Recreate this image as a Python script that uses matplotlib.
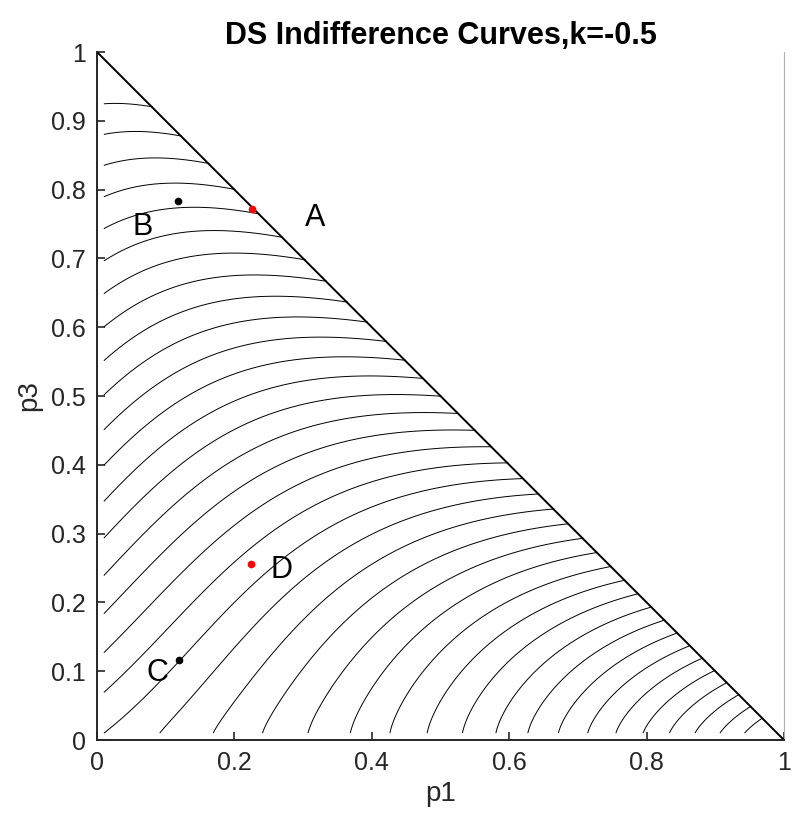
import numpy as np
import matplotlib
matplotlib.use("Agg")
import matplotlib.pyplot as plt

plt.rcParams['font.family'] = ['Liberation Sans', 'DejaVu Sans']

# curve levels shown in the figure
levels = np.arange(-18, 19)

# where each curve leaves the left edge (p1 = 0.01), levels 0..18
left_p3 = [0.011, 0.069, 0.127, 0.183, 0.238, 0.293, 0.347, 0.400, 0.450, 0.500,
           0.550, 0.599, 0.647, 0.695, 0.741, 0.787, 0.832, 0.877, 0.920]
left_lv = list(range(0, 19))

# where each curve leaves the bottom edge (p3 = 0.01), levels -1..-18
bottom_p1 = [0.087, 0.167, 0.240, 0.306, 0.371, 0.424, 0.480, 0.531, 0.580,
             0.625, 0.670, 0.713, 0.754, 0.795, 0.834, 0.872, 0.909, 0.944]
bottom_lv = list(range(-1, -19, -1))

# where the curves hit the hypotenuse
hyp_p1 = [0.087, 0.128, 0.169, 0.203, 0.240, 0.274, 0.305, 0.337, 0.361, 0.390,
          0.422, 0.448, 0.473, 0.499, 0.524, 0.548, 0.572, 0.595, 0.618, 0.640,
          0.661, 0.683, 0.705, 0.724, 0.744, 0.765, 0.786, 0.805, 0.824, 0.844,
          0.863, 0.880, 0.897, 0.916, 0.933, 0.950, 0.967]
hyp_lv = list(range(18, -19, -1))

# tops of the humped curves
peak_p1 = [0.038, 0.058, 0.082, 0.101, 0.118, 0.152, 0.191, 0.220, 0.254, 0.288, 0.327, 0.366, 0.409]
peak_p3 = [0.927, 0.890, 0.854, 0.818, 0.784, 0.749, 0.715, 0.681, 0.649, 0.619, 0.588, 0.558, 0.529]
peak_lv = list(range(18, 5, -1))

# the four marked lotteries
pt_names = ['A', 'B', 'C', 'D']
pt_p1 = [0.225, 0.118, 0.119, 0.224]
pt_p3 = [0.772, 0.784, 0.116, 0.256]
pt_lv = [14, 14, 0, 1]
pt_colors = ['red', 'black', 'black', 'red']


def basis(p1, p3, c):
    p1 = np.asarray(p1, float)
    p3 = np.asarray(p3, float)
    p2 = np.clip(1 - p1 - p3, 0, None)
    r = p3 / (p3 + c * p1 * p2)
    return np.stack([np.ones_like(p1), p1, p1**2, p1**3,
                     p3 * r, p3**2 * r, p1 * p3 * r, p1**2 * p3 * r, p1 * p3**2 * r,
                     p1 * p2 * p3 * r], axis=-1)


P1 = np.r_[np.full(len(left_p3), 0.01), bottom_p1, hyp_p1, pt_p1, peak_p1]
P3 = np.r_[left_p3, np.full(len(bottom_p1), 0.01), 1 - np.array(hyp_p1) - 0.002, pt_p3, peak_p3]
LV = np.r_[left_lv, bottom_lv, hyp_lv, pt_lv, peak_lv].astype(float)


def fit(c, h=1e-3):
    M = basis(P1, P3, c)
    pk1 = np.array(peak_p1)
    pk3 = np.array(peak_p3)
    D = (basis(pk1 + h, pk3, c) - basis(pk1 - h, pk3, c)) / (2 * h)
    A = np.vstack([M, 0.3 * D])
    b = np.r_[LV, np.zeros(len(pk1))]
    coef = np.linalg.lstsq(A, b, rcond=None)[0]
    return coef, np.sum((A @ coef - b) ** 2)


fits = [fit(c) + (c,) for c in np.linspace(0.15, 2.5, 48)]
coef, err, c_best = min(fits, key=lambda f: f[1])

g = np.linspace(0.01, 1, 600)
G1, G3 = np.meshgrid(g, g)
V = basis(G1, G3, c_best) @ coef
V[G1 + G3 > 1.003] = np.nan

fig = plt.figure(figsize=(7.93, 8.24), dpi=100)
ax = fig.add_axes([97 / 793, 1 - 740 / 824, 687 / 793, 688 / 824])

ax.contour(G1, G3, V, levels=levels, colors='black', linewidths=0.7, linestyles='solid')
ax.plot([0, 1], [1, 0], color='black', lw=1.4)

for name, x, y, col in zip(pt_names, pt_p1, pt_p3, pt_colors):
    ax.plot(x, y, 'o', color=col, ms=4.5)

label_pos = {'A': (0.318, 0.758), 'B': (0.067, 0.745), 'C': (0.088, 0.097), 'D': (0.268, 0.247)}
for name in pt_names:
    ax.text(*label_pos[name], name, fontsize=22, ha='center', va='center')

ax.set_xlim(0, 1)
ax.set_ylim(0, 1)
ax.set_xticks(np.arange(0, 1.01, 0.2))
ax.set_xticklabels(['0', '0.2', '0.4', '0.6', '0.8', '1'])
ax.set_yticks(np.arange(0, 1.01, 0.1))
ax.set_yticklabels(['0', '0.1', '0.2', '0.3', '0.4', '0.5', '0.6', '0.7', '0.8', '0.9', '1'])
ax.tick_params(direction='in', length=6, width=1.2, labelsize=18, pad=8, colors='#262626')
ax.spines['top'].set_visible(False)
ax.spines['right'].set_color('#b0b0b0')
ax.spines['right'].set_linewidth(0.8)
for s in ['left', 'bottom']:
    ax.spines[s].set_linewidth(1.4)
    ax.spines[s].set_color('#262626')

ax.set_xlabel('p1', fontsize=20, color='#262626', labelpad=4)
ax.set_ylabel('p3', fontsize=20, color='#262626', labelpad=6)
ax.set_title('DS Indifference Curves,k=-0.5', fontsize=22, fontweight='bold', pad=6)

fig.savefig('out.png', dpi=100)
